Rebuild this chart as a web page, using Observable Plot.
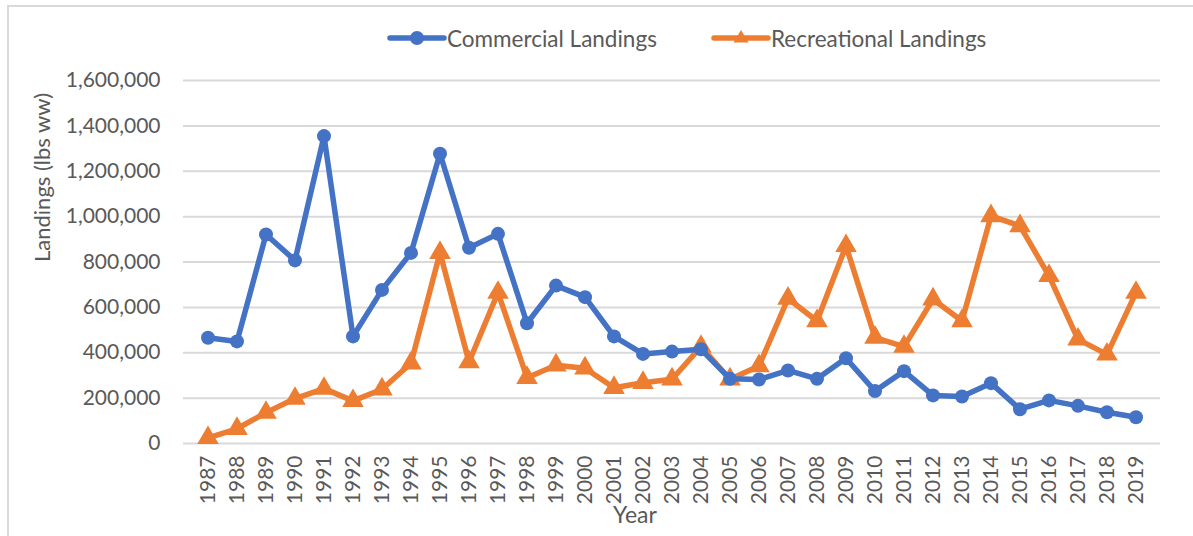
<!DOCTYPE html>
<html>
<head>
<meta charset="utf-8">
<script src="https://cdn.jsdelivr.net/npm/d3@7"></script>
<script src="https://cdn.jsdelivr.net/npm/@observablehq/plot@0.6"></script>
<style>
  html, body { margin: 0; padding: 0; background: #fff; }
  #wrap { position: relative; width: 1193px; height: 536px; overflow: hidden; font-family: Lato, "Open Sans", sans-serif; }
  #frame { position: absolute; left: 7px; top: 5px; width: 1200px; height: 560px; border-left: 2px solid #d9d9d9; border-top: 2px solid #d9d9d9; pointer-events: none; }
  #legend { position: absolute; top: 23px; left: 0; width: 1193px; height: 30px; }
  .item { position: absolute; top: 0; display: flex; align-items: center; height: 30px; font-size: 22.5px; color: #595959; white-space: nowrap; }
  #chart { position: absolute; top: 60px; left: 0; }
</style>
</head>
<body>
<div id="wrap">
  <div id="frame"></div>
  <div id="legend"></div>
  <div id="chart"></div>
</div>
<script>
const years = [1987,1988,1989,1990,1991,1992,1993,1994,1995,1996,1997,1998,1999,2000,2001,2002,2003,2004,2005,2006,2007,2008,2009,2010,2011,2012,2013,2014,2015,2016,2017,2018,2019];
const commercial = [466000,450000,921000,807000,1355000,472000,677000,840000,1277000,863000,924000,530000,696000,645000,472000,395000,405000,415000,285000,282000,322000,285000,376000,231000,319000,212000,207000,266000,151000,190000,166000,138000,116000];
const recreational = [25000,65000,136000,198000,242000,188000,239000,354000,841000,359000,665000,290000,345000,332000,246000,268000,283000,427000,283000,342000,639000,540000,871000,467000,427000,636000,540000,1003000,959000,739000,459000,393000,665000];
const seriesNames = ["Commercial Landings", "Recreational Landings"];
const seriesColors = ["#4472C4", "#ED7D31"];
const yTicks = [0,200000,400000,600000,800000,1000000,1200000,1400000,1600000];

const comm = years.map((y, i) => ({year: String(y), value: commercial[i], series: seriesNames[0]}));
const rec = years.map((y, i) => ({year: String(y), value: recreational[i], series: seriesNames[1]}));

const fmt = d3.format(",");

const plot = Plot.plot({
  width: 1193,
  height: 476,
  marginTop: 20,
  marginBottom: 93,
  marginLeft: 183,
  marginRight: 33,
  style: { fontFamily: "Lato, 'Open Sans', sans-serif", color: "#595959", background: "transparent" },
  x: { type: "band", domain: years.map(String), padding: 0, label: null },
  y: { domain: [0, 1600000], label: null },
  marks: [
    Plot.gridY(yTicks, { stroke: "#d9d9d9", strokeOpacity: 1, strokeWidth: 2 }),
    Plot.axisY(yTicks, { tickSize: 0, tickPadding: 23, tickFormat: d => fmt(d), fontSize: 21, fill: "#595959", label: null }),
    Plot.axisX({ tickSize: 0, tickPadding: 12, tickRotate: -90, fontSize: 21, fill: "#595959", label: null }),
    Plot.text(["Landings (lbs ww)"], { frameAnchor: "left", dx: -141, dy: 0, rotate: -90, fontSize: 22, fill: "#595959" }),
    Plot.text(["Year"], { frameAnchor: "bottom", dx: -37, dy: 79, fontSize: 23, fill: "#595959" }),
    Plot.line(rec, { x: "year", y: "value", stroke: seriesColors[1], strokeWidth: 5.5, strokeLinejoin: "round", strokeLinecap: "round" }),
    Plot.dot(rec, { x: "year", y: "value", symbol: "triangle", r: 8, fill: seriesColors[1], stroke: "none" }),
    Plot.line(comm, { x: "year", y: "value", stroke: seriesColors[0], strokeWidth: 5.5, strokeLinejoin: "round", strokeLinecap: "round" }),
    Plot.dot(comm, { x: "year", y: "value", symbol: "circle", r: 7, fill: seriesColors[0], stroke: "none" })
  ]
});
document.getElementById("chart").appendChild(plot);

// Legend
const legend = document.getElementById("legend");
const legendX = [386, 710];
seriesNames.forEach((name, i) => {
  const item = document.createElement("div");
  item.className = "item";
  item.style.left = legendX[i] + "px";
  const svgNS = "http://www.w3.org/2000/svg";
  const sw = document.createElementNS(svgNS, "svg");
  sw.setAttribute("width", 61);
  sw.setAttribute("height", 30);
  const ln = document.createElementNS(svgNS, "line");
  ln.setAttribute("x1", 4); ln.setAttribute("x2", 58);
  ln.setAttribute("y1", 15); ln.setAttribute("y2", 15);
  ln.setAttribute("stroke", seriesColors[i]);
  ln.setAttribute("stroke-width", 5.5);
  ln.setAttribute("stroke-linecap", "round");
  sw.appendChild(ln);
  if (i === 0) {
    const c = document.createElementNS(svgNS, "circle");
    c.setAttribute("cx", 31); c.setAttribute("cy", 15); c.setAttribute("r", 7);
    c.setAttribute("fill", seriesColors[i]);
    sw.appendChild(c);
  } else {
    const p = document.createElementNS(svgNS, "path");
    p.setAttribute("d", "M31,7 L38.5,19.5 L23.5,19.5 Z");
    p.setAttribute("fill", seriesColors[i]);
    sw.appendChild(p);
  }
  item.appendChild(sw);
  const t = document.createElement("span");
  t.textContent = name;
  item.appendChild(t);
  legend.appendChild(item);
});
</script>
</body>
</html>
